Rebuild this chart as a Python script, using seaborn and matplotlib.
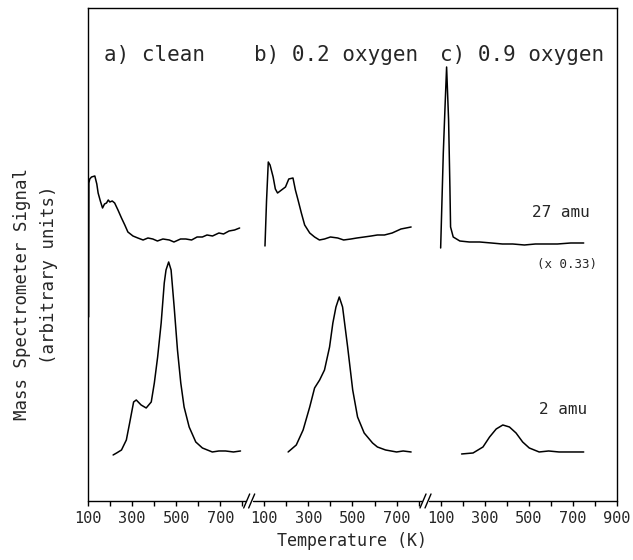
import matplotlib
matplotlib.use('Agg')
import matplotlib.pyplot as plt
import numpy as np
import pandas as pd
import seaborn as sns

# --- data: temperature (K) and signal (arbitrary units) ---
# panel a) clean
clean_27_t = [103, 104, 108, 116, 131, 140, 146, 156, 166, 175, 184, 192, 199, 210, 221, 236, 252,
              267, 281, 304, 326, 350, 372, 394, 415, 440, 469, 490, 520, 544, 570, 595, 619, 640,
              665, 694, 715, 740, 765, 788]
clean_27_sig = [184, 318, 322, 324, 325, 317, 308, 300, 293, 297, 298, 301, 299, 300, 298, 291, 283,
                276, 269, 265, 263, 261, 263, 262, 260, 262, 261, 259, 262, 262, 261, 264, 264, 266,
                265, 268, 267, 270, 271, 273]
clean_2_t = [214, 230, 252, 274, 289, 307, 319, 341, 364, 387, 401, 416, 432, 446, 454, 466, 477,
             491, 506, 521, 536, 559, 589, 619, 664, 694, 724, 760, 792]
clean_2_sig = [46, 48, 51, 61, 78, 99, 101, 96, 93, 99, 118, 144, 178, 218, 231, 239, 231,
               194, 151, 118, 94, 74, 59, 53, 49, 50, 50, 49, 50]

# panel b) 0.2 oxygen
ox02_27_t = [103, 110, 118, 126, 140, 150, 160, 178, 196, 211, 230, 241, 253, 268, 283, 306, 328,
             350, 373, 400, 433, 460, 493, 520, 553, 585, 613, 645, 680, 720, 766]
ox02_27_sig = [255, 300, 339, 336, 324, 312, 308, 311, 314, 322, 323, 311, 301, 288, 276, 268, 264,
               261, 262, 264, 263, 261, 262, 263, 264, 265, 266, 266, 268, 272, 274]
ox02_2_t = [208, 245, 276, 306, 328, 351, 373, 396, 411, 425, 440, 455, 478, 501, 523, 553, 591,
            613, 650, 700, 730, 766]
ox02_2_sig = [49, 56, 71, 94, 113, 121, 131, 154, 178, 194, 204, 194, 154, 111, 84, 68, 58,
              54, 51, 49, 50, 49]

# panel c) 0.9 oxygen (27 amu shown x 0.33)
ox09_27_t = [100, 112, 120, 127, 136, 142, 145, 157, 187, 230, 277, 330, 380, 427, 480, 530, 577,
             630, 690, 749]
ox09_27_sig = [253, 348, 395, 434, 381, 314, 274, 264, 260, 259, 259, 258, 257, 257, 256, 257, 257,
               257, 258, 258]
ox09_2_t = [195, 247, 292, 322, 352, 382, 412, 442, 472, 502, 547, 590, 637, 690, 749]
ox09_2_sig = [47, 48, 54, 64, 72, 76, 74, 68, 59, 53, 49, 50, 49, 49, 49]

panel_labels = ['a) clean', 'b) 0.2 oxygen', 'c) 0.9 oxygen']
tick_labels = ['100', '300', '500', '700'] * 3 + ['900']

PANEL_SHIFT = 800          # each panel covers 100..900 K, panels sit side by side
BREAK_T = 820              # where the // marks sit inside panels a and b

traces = [
    ('a27', 0, clean_27_t, clean_27_sig),
    ('a2', 0, clean_2_t, clean_2_sig),
    ('b27', 1, ox02_27_t, ox02_27_sig),
    ('b2', 1, ox02_2_t, ox02_2_sig),
    ('c27', 2, ox09_27_t, ox09_27_sig),
    ('c2', 2, ox09_2_t, ox09_2_sig),
]
frames = []
for name, panel, t, sig in traces:
    frames.append(pd.DataFrame({'trace': name,
                                'x': np.asarray(t, float) + panel * PANEL_SHIFT,
                                'signal': sig}))
df = pd.concat(frames, ignore_index=True)

sns.set_style('ticks')
plt.rcParams['font.family'] = ['DejaVu Sans Mono', 'DejaVu Sans']

fig = plt.figure(figsize=(6.33, 5.6), dpi=100)
ax = fig.add_axes([0.139, 0.1054, 0.8357, 0.8803])

sns.lineplot(data=df, x='x', y='signal', units='trace', estimator=None, sort=False,
             color='black', linewidth=1.1, ax=ax, legend=False)

x_min, x_max = 100, 100 + 3 * PANEL_SHIFT
ax.set_xlim(x_min, x_max)
ax.set_ylim(0, 493)

major = [100, 300, 500, 700, 900, 1100, 1300, 1500, 1700, 1900, 2100, 2300, 2500]
ax.set_xticks(major)
ax.set_xticklabels(tick_labels, fontsize=11)
ax.set_xticks(np.arange(x_min, x_max + 1, 100), minor=True)
ax.tick_params(axis='x', which='both', direction='out', length=3.5, width=1, color='black', pad=4)
ax.set_yticks([])

for side in ['left', 'right', 'top']:
    ax.spines[side].set_color('black')
    ax.spines[side].set_linewidth(1.0)
ax.spines['bottom'].set_visible(False)

# bottom axis line with // breaks between the panels
px = (x_max - x_min) / 529.0   # K per pixel
breaks = [BREAK_T, BREAK_T + PANEL_SHIFT]
seg_start = x_min
for b in breaks:
    ax.plot([seg_start, b - 1 * px], [0, 0], color='black', lw=1.0, clip_on=False, zorder=3)
    for k in (0, 5):
        ax.plot([b + (k - 3) * px, b + (k + 3) * px], [-7, 7], color='black', lw=1.0,
                clip_on=False, zorder=3)
    seg_start = b + 6 * px
ax.plot([seg_start, x_max], [0, 0], color='black', lw=1.0, clip_on=False, zorder=3)

ax.set_xlabel('Temperature (K)', fontsize=12, labelpad=4)
ax.set_ylabel('')
fig.text(0.035, 0.475, 'Mass Spectrometer Signal', rotation=90, ha='center', va='center', fontsize=12.5)
fig.text(0.077, 0.51, '(arbitrary units)', rotation=90, ha='center', va='center', fontsize=12.5)

title_x = [404, 1225, 2071]
for label, tx in zip(panel_labels, title_x):
    ax.text(tx, 446, label, ha='center', va='center', fontsize=15)

ax.text(2378, 288, '27 amu', ha='right', va='center', fontsize=11.5)
ax.text(2409, 236, '(x 0.33)', ha='right', va='center', fontsize=9)
ax.text(2364, 91, '2 amu', ha='right', va='center', fontsize=11.5)

fig.savefig('out.png', dpi=100)
